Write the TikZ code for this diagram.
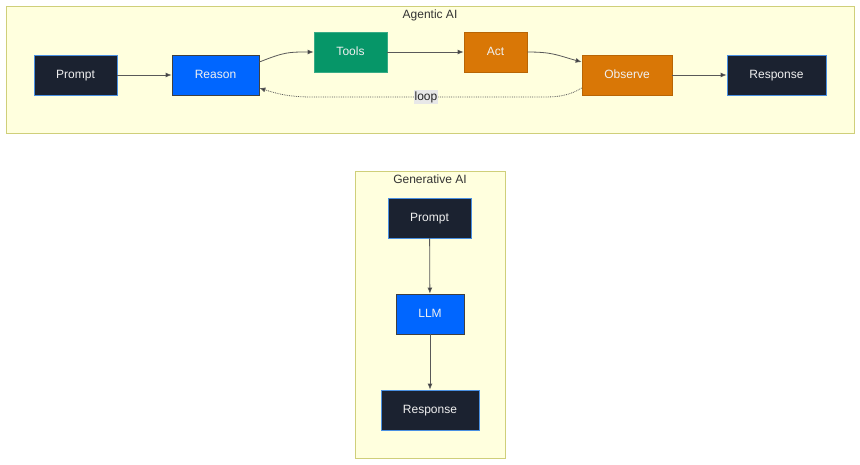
\documentclass[tikz,border=0pt]{standalone}
\usepackage{fontspec}
\setmainfont{Liberation Sans}
\usetikzlibrary{arrows.meta, positioning}
\definecolor{navy}{HTML}{1B2230}
\definecolor{edgeblue}{HTML}{4A90E2}
\definecolor{brightblue}{HTML}{0066FF}
\definecolor{teal}{HTML}{069668}
\definecolor{amber}{HTML}{D97706}
\definecolor{clusterfill}{HTML}{FFFFDE}
\definecolor{clusterline}{HTML}{CFCF7A}

\tikzset{
  box/.style={draw, line width=0.8pt, text=white!94!black, minimum height=40pt, inner sep=0pt,
    text height=9.6pt, text depth=2.2pt, font=\fontsize{12}{14}\selectfont},
  darkbox/.style={box, fill=navy, draw=edgeblue},
  bluebox/.style={box, fill=brightblue, draw=black!75},
  toolbox/.style={box, fill=teal, draw=teal!80!white},
  actbox/.style={box, fill=amber, draw=amber!85!black},
  cluster/.style={draw=clusterline, fill=clusterfill, line width=0.8pt},
  title/.style={text=black!80, font=\fontsize{12}{14}\selectfont},
  flow/.style={draw=black!65, line width=0.8pt, -{Latex[length=6pt, width=5pt, fill=black!80]}},
  loopline/.style={flow, densely dotted},
}

\begin{document}
\begin{tikzpicture}[x=1pt, y=-1pt]
    \useasboundingbox (0,0) rectangle (860,464);

    % Agentic AI
    \draw[cluster] (6,6) rectangle (854,133);
    \node[title] (agtitle) at (430,15) {Agentic AI};

    \node[darkbox, minimum width=83pt] (aprompt) at (75.5,75) {Prompt};
    \node[bluebox, minimum width=87pt] (reason) at (215.5,75) {Reason};
    \node[toolbox, minimum width=73pt] (tools) at (350.5,52) {Tools};
    \node[actbox, minimum width=63pt] (act) at (495.5,52) {Act};
    \node[actbox, minimum width=90pt] (observe) at (627,75) {Observe};
    \node[darkbox, minimum width=99pt] (aresp) at (776.5,75) {Response};

    \draw[flow] (aprompt) -- (reason);
    \draw[flow] ([yshift=13pt]reason.east) .. controls +(25,-10) and +(-25,0) .. (tools.west);
    \draw[flow] (tools) -- (act);
    \draw[flow] (act.east) .. controls +(25,0) and +(-25,-7) .. ([yshift=13pt]observe.west);
    \draw[flow] (observe) -- (aresp);

    % loop back
    \draw[loopline] ([yshift=-13pt]observe.west) .. controls (567,97) and (555,97) .. (540,97)
        -- node[fill=black!9, inner sep=1pt, text=black!85, font=\fontsize{12}{14}\selectfont] (looplbl) {loop} (312,97)
        .. controls (287,97) and (275,93) .. ([yshift=-13pt]reason.east);

    % Generative AI
    \draw[cluster] (355,171) rectangle (505,458);
    \node[title] (gentitle) at (430,179) {Generative AI};

    \node[darkbox, minimum width=83pt] (gprompt) at (429.5,218) {Prompt};
    \node[bluebox, minimum width=68pt] (llm) at (430,314) {LLM};
    \node[darkbox, minimum width=98pt] (gresp) at (430,410) {Response};

    \draw[flow] (gprompt) -- (llm);
    \draw[flow] (llm) -- (gresp);
\end{tikzpicture}
\end{document}
